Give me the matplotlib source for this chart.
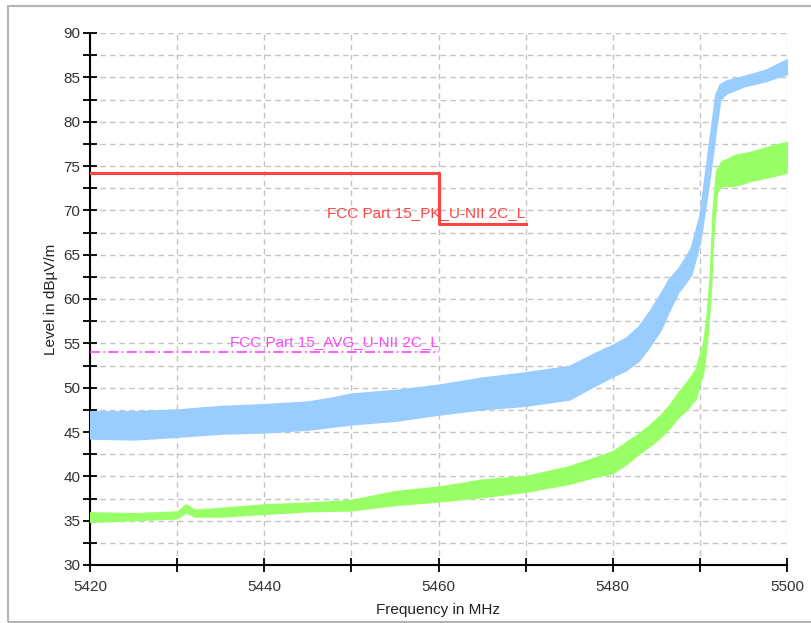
import matplotlib
matplotlib.use("Agg")
import matplotlib.pyplot as plt
from matplotlib.patches import Rectangle
from matplotlib.ticker import MultipleLocator, FuncFormatter

plt.rcParams['font.family'] = ['Liberation Sans', 'DejaVu Sans']

# peak trace (blue): frequency, lower / upper edge of the noise band
pk_freq = [5420, 5425, 5430, 5435, 5440, 5445, 5447.5, 5450, 5455, 5460, 5465,
           5470, 5475, 5478, 5480, 5481.5, 5483, 5484.3, 5485.5, 5486.5, 5487.5,
           5488.3, 5489, 5490, 5491, 5491.8, 5492.3, 5493, 5495, 5497.5, 5500]
pk_lo = [44.3, 44.2, 44.5, 44.85, 45.0, 45.3, 45.6, 45.9, 46.3, 47.0, 47.6,
         48.0, 48.7, 50.3, 51.3, 52.0, 53.1, 54.8, 56.6, 58.8, 60.8,
         61.8, 62.8, 66.5, 73.0, 79.0, 82.5, 83.2, 84.0, 84.6, 85.4]
pk_hi = [47.3, 47.3, 47.5, 47.9, 48.1, 48.4, 48.8, 49.3, 49.7, 50.3, 51.1,
         51.7, 52.4, 53.9, 54.8, 55.6, 56.9, 58.7, 60.6, 62.3, 63.4,
         64.6, 65.8, 69.5, 77.0, 83.0, 84.2, 84.6, 85.1, 85.8, 87.0]

# average trace (green)
av_freq = [5420, 5425, 5430, 5431, 5432, 5435, 5440, 5445, 5450, 5455, 5460,
           5465, 5470, 5475, 5478, 5480, 5481.5, 5483, 5484.3, 5485.5, 5486.5,
           5487.5, 5488.5, 5489.5, 5490.4, 5490.8, 5491.2, 5491.5, 5491.9,
           5492.5, 5494, 5496, 5498, 5500]
av_lo = [34.9, 35.1, 35.3, 36.0, 35.5, 35.5, 35.8, 36.1, 36.2, 36.8, 37.2,
         37.7, 38.3, 39.2, 40.0, 40.4, 41.4, 42.6, 43.5, 44.5, 45.5,
         46.7, 47.6, 48.8, 52.0, 55.5, 60.5, 67.0, 72.0,
         72.8, 72.8, 73.4, 73.8, 74.3]
av_hi = [35.9, 35.8, 36.0, 36.8, 36.2, 36.4, 36.8, 37.0, 37.3, 38.3, 38.8,
         39.6, 40.0, 41.1, 42.1, 42.8, 43.8, 44.8, 45.8, 46.9, 48.0,
         49.4, 50.6, 52.0, 55.0, 58.0, 63.0, 70.0, 74.5,
         75.5, 76.2, 76.6, 77.2, 77.7]

# limit lines
pk_limit_freq = [5420, 5460, 5460, 5470]
pk_limit_lvl = [74.2, 74.2, 68.5, 68.5]
av_limit_freq = [5420, 5460]
av_limit_lvl = [54.0, 54.0]
pk_limit_name = "FCC Part 15_PK_U-NII 2C_L"
av_limit_name = "FCC Part 15_AVG_U-NII 2C_L"

fig = plt.figure(figsize=(8.12, 6.23), dpi=100)
fig.add_artist(Rectangle((8 / 812, 1 / 623), 1.0, 616 / 623, transform=fig.transFigure,
                         fill=False, edgecolor='#b4b4b4', lw=1.5))

ax = fig.add_axes([90 / 812, 58 / 623, 697 / 812, 532 / 623])

ax.fill_between(pk_freq, pk_lo, pk_hi, color='#99ccff', lw=1.5, edgecolor='#99ccff', zorder=3)
ax.fill_between(av_freq, av_lo, av_hi, color='#99ff66', lw=1.5, edgecolor='#99ff66', zorder=3)

ax.plot(pk_limit_freq, pk_limit_lvl, color='#ff4444', lw=2.2, zorder=4)
ax.plot(av_limit_freq, av_limit_lvl, color='#ff44ff', lw=1.2, ls=(0, (6, 2, 1, 2)), zorder=4)

ax.text(pk_limit_freq[-1], pk_limit_lvl[-1] + 0.4, pk_limit_name, color='#ff4444',
        fontsize=11, ha='right', va='bottom', zorder=5)
ax.text(av_limit_freq[-1], av_limit_lvl[-1] + 0.4, av_limit_name, color='#ff44ff',
        fontsize=11, ha='right', va='bottom', zorder=5)

ax.set_xlim(5420, 5500)
ax.set_ylim(30, 90)
ax.xaxis.set_major_locator(MultipleLocator(10))
ax.xaxis.set_major_formatter(FuncFormatter(lambda v, p: f"{v:.0f}" if round(v) % 20 == 0 else ""))
ax.yaxis.set_major_locator(MultipleLocator(5))
ax.yaxis.set_minor_locator(MultipleLocator(2.5))

ax.grid(True, which='both', axis='y', color='#c4c4c4', ls=(0, (4, 3)), lw=1)
ax.grid(True, which='major', axis='x', color='#c4c4c4', ls=(0, (4, 3)), lw=1)
ax.set_axisbelow(True)

for s in ['top', 'right']:
    ax.spines[s].set_visible(False)
for s in ['left', 'bottom']:
    ax.spines[s].set_linewidth(1.5)
    ax.spines[s].set_color('black')

ax.tick_params(which='both', direction='inout', length=10, width=1.3, colors='black',
               labelcolor='#333333', labelsize=11)
ax.tick_params(axis='x', pad=6)
ax.tick_params(axis='y', pad=2)

ax.set_xlabel("Frequency in MHz", fontsize=11, color='#222222', labelpad=6)
ax.set_ylabel("Level in dBµV/m", fontsize=11, color='#222222', labelpad=4)

plt.savefig("out.png", dpi=100)
